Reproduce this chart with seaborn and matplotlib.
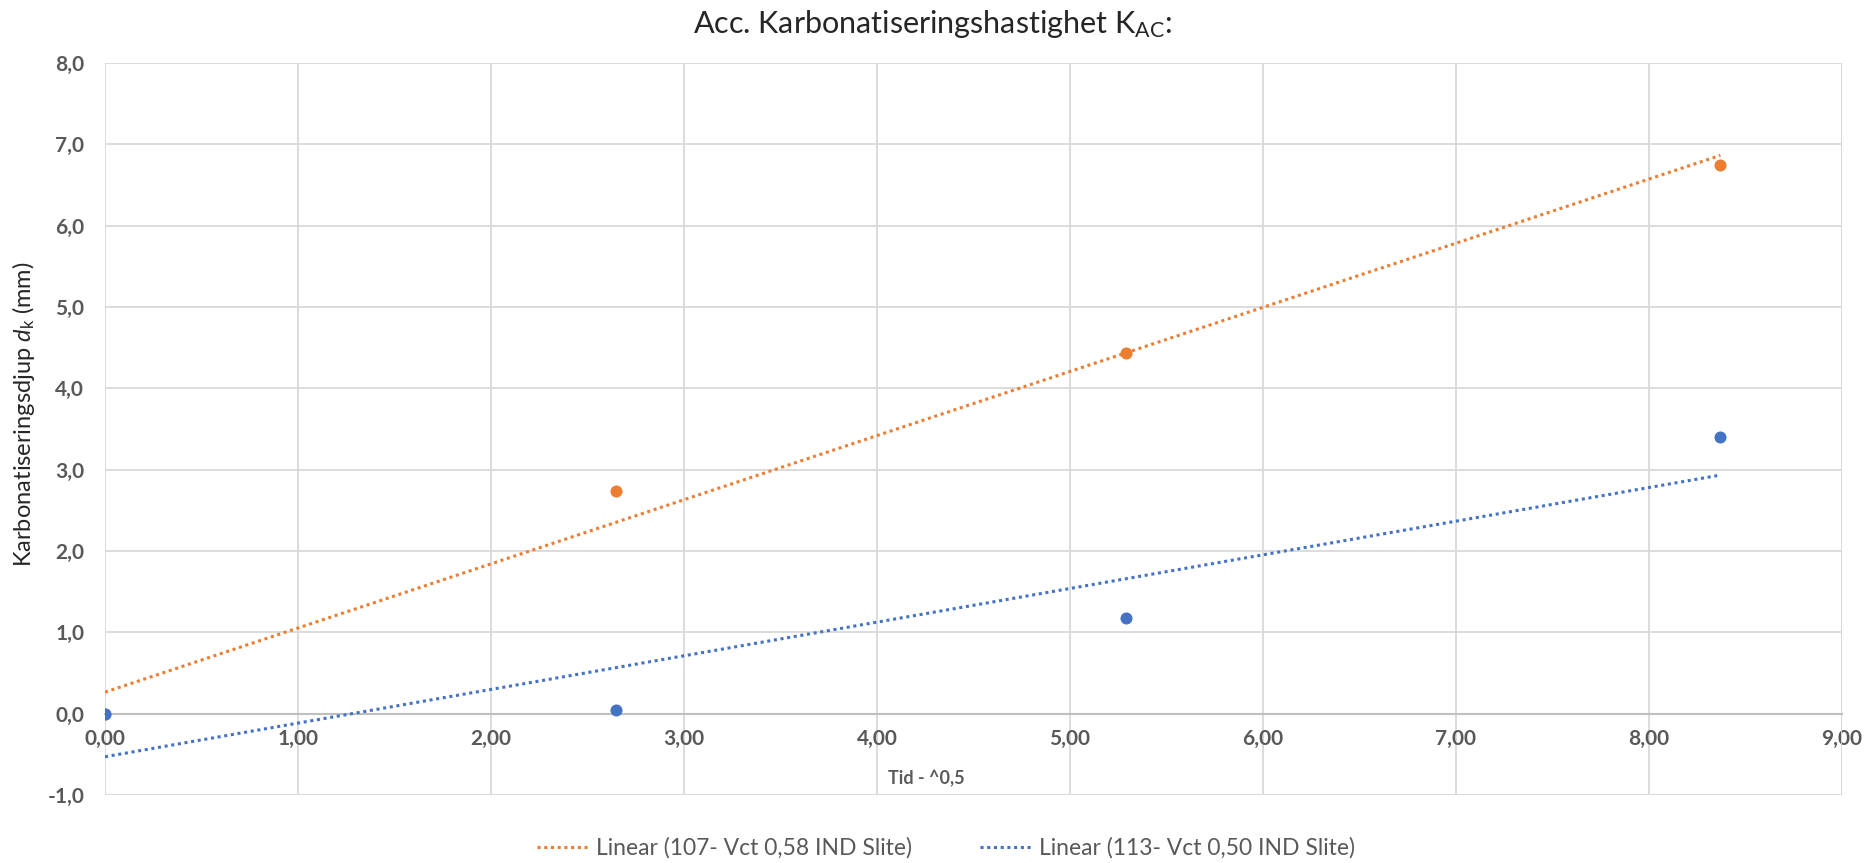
import numpy as np
import pandas as pd
import matplotlib
matplotlib.use("Agg")
import matplotlib.pyplot as plt
import seaborn as sns

# data (x = sqrt of days)
tid = [0.0, 2.65, 5.29, 8.37]
dk_107 = [0.0, 2.74, 4.44, 6.74]
dk_113 = [0.0, 0.05, 1.18, 3.40]
series_names = ["107- Vct 0,58 IND Slite", "113- Vct 0,50 IND Slite"]
colors = ["#ED7D31", "#4472C4"]

x_ticks = np.arange(0, 10, 1)
y_ticks = np.arange(-1, 9, 1)

sns.set_theme(style="white")
plt.rcParams["font.family"] = ["Lato", "DejaVu Sans"]
plt.rcParams["mathtext.fontset"] = "custom"
plt.rcParams["mathtext.rm"] = "Lato"
plt.rcParams["mathtext.it"] = "Lato:italic"

fig = plt.figure(figsize=(18.65, 8.63), dpi=100)
ax = fig.add_axes([105 / 1865, 1 - 795 / 863, (1842 - 105) / 1865, (795 - 63) / 863])

df = pd.DataFrame({"tid": tid * 2,
                   "dk": dk_107 + dk_113,
                   "serie": [series_names[0]] * 4 + [series_names[1]] * 4})

for name, col in zip(series_names, colors):
    sub = df[df["serie"] == name]
    sns.regplot(data=sub, x="tid", y="dk", ax=ax, ci=None, color=col,
                scatter_kws={"s": 75, "zorder": 4, "linewidths": 0, "alpha": 1},
                line_kws={"linestyle": (0, (1, 1.2)), "linewidth": 2.2,
                          "label": f"Linear ({name})", "zorder": 3})

ax.set_xlim(0, 9)
ax.set_ylim(-1, 8)
ax.set_xticks(x_ticks)
ax.set_yticks(y_ticks)
ax.set_xticklabels([f"{v:.2f}".replace(".", ",") for v in x_ticks])
ax.set_yticklabels([f"{v:.1f}".replace(".", ",") for v in y_ticks])

ax.grid(True, color="#d9d9d9", linewidth=1.3)
ax.set_axisbelow(True)
for s in ["top", "right", "left"]:
    ax.spines[s].set_visible(False)
ax.spines["bottom"].set_position(("data", 0))
ax.spines["bottom"].set_color("#bfbfbf")
ax.spines["bottom"].set_linewidth(1.5)
ax.spines["bottom"].set_zorder(2)
# frame lines at the plot edges
ax.axhline(-1, color="#d9d9d9", linewidth=1.3, zorder=1)
ax.axvline(9, color="#d9d9d9", linewidth=1.3, zorder=1)

ax.tick_params(axis="both", length=0, labelsize=15, labelcolor="#595959")
ax.tick_params(axis="x", pad=11)
ax.tick_params(axis="y", pad=15)
for lab in ax.get_xticklabels() + ax.get_yticklabels():
    lab.set_fontweight("bold")

ax.set_xlabel("")
ax.set_ylabel("Karbonatiseringsdjup $d_\\mathregular{k}$ (mm)", fontsize=17,
              color="#262626")
ax.yaxis.set_label_coords(-0.039, 0.52)
fig.text(926 / 1865, 1 - 779 / 863, "Tid - ^0,5", ha="center", va="center",
         fontsize=13, fontweight="bold", color="#595959")

fig.suptitle("Acc. Karbonatiseringshastighet $\\mathregular{K_{AC}}$:", y=1 - 24 / 863,
             va="center", fontsize=22, color="#262626")

handles = [l for l in ax.get_lines() if l.get_label().startswith("Linear")]
fig.legend(handles=handles, labels=[h.get_label() for h in handles],
           loc="center", bbox_to_anchor=(946 / 1865, 1 - 848 / 863), ncol=2,
           frameon=False, fontsize=16.5, labelcolor="#595959", handlelength=2.2,
           handletextpad=0.35, columnspacing=3.0)

fig.savefig("out.png", dpi=100)
